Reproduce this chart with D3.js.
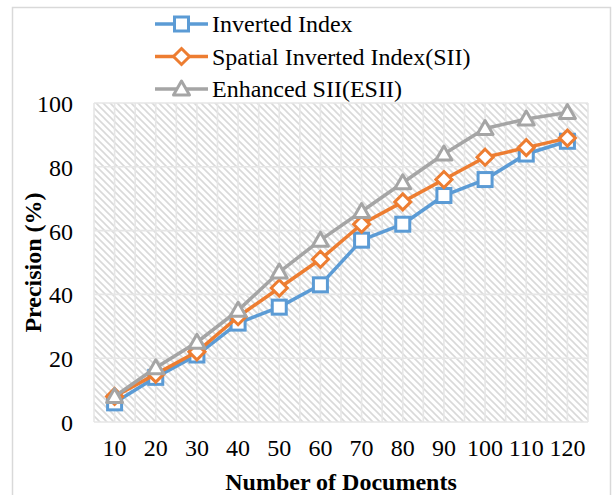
<!DOCTYPE html>
<html>
<head>
<meta charset="utf-8">
<style>
  body { margin: 0; background: #fff; }
  svg text { font-family: "Liberation Serif", "Times New Roman", serif; fill: #000; }
</style>
</head>
<body>
<svg width="613" height="495"></svg>
<script src="https://cdn.jsdelivr.net/npm/d3@7/dist/d3.min.js"></script>
<script>
// chart data
var docs = [10, 20, 30, 40, 50, 60, 70, 80, 90, 100, 110, 120];
var invertedIndex = [6, 14, 21, 31, 36, 43, 57, 62, 71, 76, 84, 88];
var spatialII = [8, 15, 22, 33, 42, 51, 62, 69, 76, 83, 86, 89];
var enhancedSII = [8, 17, 25, 35, 47, 57, 66, 75, 84, 92, 95, 97];
var yTicks = [0, 20, 40, 60, 80, 100];
var seriesNames = ["Inverted Index", "Spatial Inverted Index(SII)", "Enhanced SII(ESII)"];

var series = [
  { name: seriesNames[0], values: invertedIndex, color: "#5b9bd5", marker: "square" },
  { name: seriesNames[1], values: spatialII, color: "#ed7d31", marker: "diamond" },
  { name: seriesNames[2], values: enhancedSII, color: "#a5a5a5", marker: "triangle" }
];

var svg = d3.select("svg");

// outer chart border
svg.append("rect")
    .attr("x", 12.5).attr("y", 7.5)
    .attr("width", 598).attr("height", 500)
    .attr("fill", "#fff")
    .attr("stroke", "#d9d9d9")
    .attr("stroke-width", 1.5);

var plot = { left: 94, right: 588, top: 103, bottom: 422 };

var x = d3.scaleBand()
    .domain(docs)
    .range([plot.left, plot.right]);

var y = d3.scaleLinear()
    .domain([0, 100])
    .range([plot.bottom, plot.top]);

// hatch fill of the plot area
var defs = svg.append("defs");
var pat = defs.append("pattern")
    .attr("id", "hatch")
    .attr("patternUnits", "userSpaceOnUse")
    .attr("width", 7).attr("height", 7);
pat.append("rect").attr("width", 7).attr("height", 7).attr("fill", "#fff");
pat.append("path")
    .attr("d", "M-2,5 L2,9 M0,0 L7,7 M5,-2 L9,2")
    .attr("stroke", "#d9d9d9")
    .attr("stroke-width", 1.6);

svg.append("rect")
    .attr("x", plot.left).attr("y", plot.top)
    .attr("width", plot.right - plot.left)
    .attr("height", plot.bottom - plot.top)
    .attr("fill", "url(#hatch)");

// vertical gridlines at category edges and centers
var vlines = [];
docs.forEach(function(d) {
  vlines.push(x(d));
  vlines.push(x(d) + x.bandwidth() / 2);
});
vlines.push(plot.right);

svg.append("g").selectAll("line")
  .data(vlines)
  .enter().append("line")
    .attr("x1", function(d) { return d; })
    .attr("x2", function(d) { return d; })
    .attr("y1", plot.top).attr("y2", plot.bottom)
    .attr("stroke", "#e6e6e6")
    .attr("stroke-width", 1.6);

svg.append("g").selectAll("line")
  .data(yTicks)
  .enter().append("line")
    .attr("x1", plot.left).attr("x2", plot.right)
    .attr("y1", function(d) { return y(d); })
    .attr("y2", function(d) { return y(d); })
    .attr("stroke", "#e6e6e6")
    .attr("stroke-width", 1.6);

// axes
var yAxis = svg.append("g")
    .attr("transform", "translate(" + plot.left + ",0)")
    .call(d3.axisLeft(y).tickValues(yTicks).tickSize(0).tickPadding(21));
yAxis.select(".domain").remove();
yAxis.selectAll("text")
    .style("font-size", "24px")
    .attr("dy", "0.35em");

var xAxis = svg.append("g")
    .attr("transform", "translate(0," + plot.bottom + ")")
    .call(d3.axisBottom(x).tickSize(0).tickPadding(17));
xAxis.select(".domain").remove();
xAxis.selectAll("text")
    .style("font-size", "24px");

svg.append("text")
    .attr("x", (plot.left + plot.right) / 2 + 0)
    .attr("y", 490)
    .attr("text-anchor", "middle")
    .attr("font-weight", "bold")
    .style("font-size", "24px")
    .text("Number of Documents");

svg.append("text")
    .attr("transform", "translate(33," + ((plot.top + plot.bottom) / 2) + ") rotate(-90)")
    .attr("text-anchor", "middle")
    .attr("dy", "0.35em")
    .attr("font-weight", "bold")
    .style("font-size", "24px")
    .text("Precision (%)");

// markers
function drawMarker(g, type, color, cx, cy) {
  if (type === "square") {
    g.append("rect")
      .attr("x", cx - 7).attr("y", cy - 7)
      .attr("width", 14).attr("height", 14)
      .attr("fill", "#fff").attr("stroke", color).attr("stroke-width", 3);
  } else if (type === "diamond") {
    g.append("path")
      .attr("d", "M" + cx + "," + (cy - 8) + " L" + (cx + 8) + "," + cy + " L" + cx + "," + (cy + 8) + " L" + (cx - 8) + "," + cy + "Z")
      .attr("fill", "#fff").attr("stroke", color).attr("stroke-width", 3);
  } else {
    g.append("path")
      .attr("d", "M" + cx + "," + (cy - 8) + " L" + (cx + 8) + "," + (cy + 6) + " L" + (cx - 8) + "," + (cy + 6) + "Z")
      .attr("fill", "#fff").attr("stroke", color).attr("stroke-width", 3)
      .attr("stroke-linejoin", "round");
  }
}

var line = d3.line()
    .x(function(d, i) { return x(docs[i]) + x.bandwidth() / 2; })
    .y(function(d) { return y(d); });

series.forEach(function(s) {
  var g = svg.append("g");
  g.append("path")
    .datum(s.values)
    .attr("fill", "none")
    .attr("stroke", s.color)
    .attr("stroke-width", 3.5)
    .attr("stroke-linejoin", "round")
    .attr("d", line);
  s.values.forEach(function(v, i) {
    drawMarker(g, s.marker, s.color, x(docs[i]) + x.bandwidth() / 2, y(v));
  });
});

// legend
var legend = svg.append("g");
series.forEach(function(s, i) {
  var ly = 24 + i * 32.5;
  var lg = legend.append("g");
  lg.append("line")
    .attr("x1", 155).attr("x2", 208)
    .attr("y1", ly).attr("y2", ly)
    .attr("stroke", s.color).attr("stroke-width", 3.5);
  drawMarker(lg, s.marker, s.color, 181.5, ly);
  lg.append("text")
    .attr("x", 212).attr("y", ly)
    .attr("dy", "0.35em")
    .style("font-size", "24px")
    .text(s.name);
});
</script>
</body>
</html>
